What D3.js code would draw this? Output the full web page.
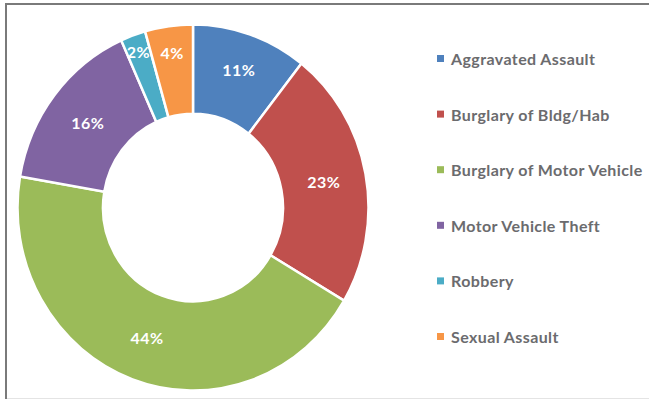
<!DOCTYPE html>
<html>
<head>
<meta charset="utf-8">
<script src="https://cdn.jsdelivr.net/npm/d3@7"></script>
<style>
  html, body { margin: 0; padding: 0; background: #fff; }
  svg { display: block; }
  text { font-family: Lato, "Open Sans", sans-serif; font-weight: bold; }
</style>
</head>
<body>
<svg id="chart" width="649" height="400"></svg>
<script>
// share of offenses, in percent
var categories = ['Aggravated Assault', 'Burglary of Bldg/Hab', 'Burglary of Motor Vehicle',
  'Motor Vehicle Theft', 'Robbery', 'Sexual Assault'];
var shares = [10.6, 22.9, 44.2, 15.6, 2.3, 4.4];
var colors = ['#4f81bd', '#c0504d', '#9bbb59', '#8064a2', '#4bacc6', '#f79646'];

var width = 649,
  height = 400,
  cx = 193,
  cy = 207.5,
  outerR = 175.5,
  innerR = 90,
  stretchY = 1.043; // the picture is a little taller than wide

var svg = d3.select('#chart');

// frame
svg.append('line').attr('x1', 6).attr('x2', 6).attr('y1', 3).attr('y2', 399)
  .attr('stroke', '#7a7a7a').attr('stroke-width', 2);
svg.append('line').attr('x1', 5).attr('x2', width).attr('y1', 4).attr('y2', 4)
  .attr('stroke', '#7a7a7a').attr('stroke-width', 2);
svg.append('line').attr('x1', 7).attr('x2', width).attr('y1', 398.5).attr('y2', 398.5)
  .attr('stroke', '#e4e4e4').attr('stroke-width', 1);

var data = categories.map(function(c, i) {
  return { key: c, value: shares[i], color: colors[i] };
});

var pie = d3.pie().sort(null).value(function(d) { return d.value; });
var arc = d3.arc().innerRadius(innerR).outerRadius(outerR);
var arcs = pie(data);

// narrow slices get their label pushed out towards the rim, like Excel does
var labelRadius = d3.scaleLinear()
  .domain([8, 16, 38, 56].map(function(deg) { return deg * Math.PI / 180; }))
  .range([160, 150, 140, 133])
  .clamp(true);

function labelPos(d) {
  var a = (d.startAngle + d.endAngle) / 2,
    r = labelRadius(d.endAngle - d.startAngle);
  return [cx + r * Math.sin(a), cy - r * Math.cos(a) * stretchY];
}

var g = svg.append('g')
  .attr('transform', 'translate(' + cx + ',' + cy + ') scale(1,' + stretchY + ')');

g.selectAll('path.slice')
  .data(arcs)
  .enter()
  .append('path')
  .attr('class', 'slice')
  .attr('d', arc)
  .attr('fill', function(d) { return d.data.color; })
  .attr('stroke', '#fff')
  .attr('stroke-width', 2.5)
  .attr('vector-effect', 'non-scaling-stroke');

// labels sit outside the stretched group so the text is not distorted
svg.append('g')
  .selectAll('text')
  .data(arcs)
  .enter()
  .append('text')
  .attr('x', function(d) { return labelPos(d)[0]; })
  .attr('y', function(d) { return labelPos(d)[1]; })
  .attr('text-anchor', 'middle')
  .attr('dominant-baseline', 'central')
  .attr('fill', '#fff')
  .attr('font-size', 16)
  .attr('letter-spacing', 0.5)
  .text(function(d) { return Math.round(d.data.value) + '%'; });

// legend
var legendX = 437,
  legendY = 58.5,
  legendStep = 55.6;

var legend = svg.append('g')
  .selectAll('g')
  .data(data)
  .enter()
  .append('g')
  .attr('transform', function(d, i) {
    return 'translate(' + legendX + ',' + (legendY + i * legendStep) + ')';
  });

legend.append('rect')
  .attr('x', 0)
  .attr('y', -3.5)
  .attr('width', 7)
  .attr('height', 7)
  .attr('fill', function(d) { return d.color; });

legend.append('text')
  .attr('x', 14)
  .attr('y', 0)
  .attr('dominant-baseline', 'central')
  .attr('fill', '#6b6b6e')
  .attr('font-size', 16)
  .attr('letter-spacing', 0.4)
  .text(function(d) { return d.key; });
</script>
</body>
</html>
